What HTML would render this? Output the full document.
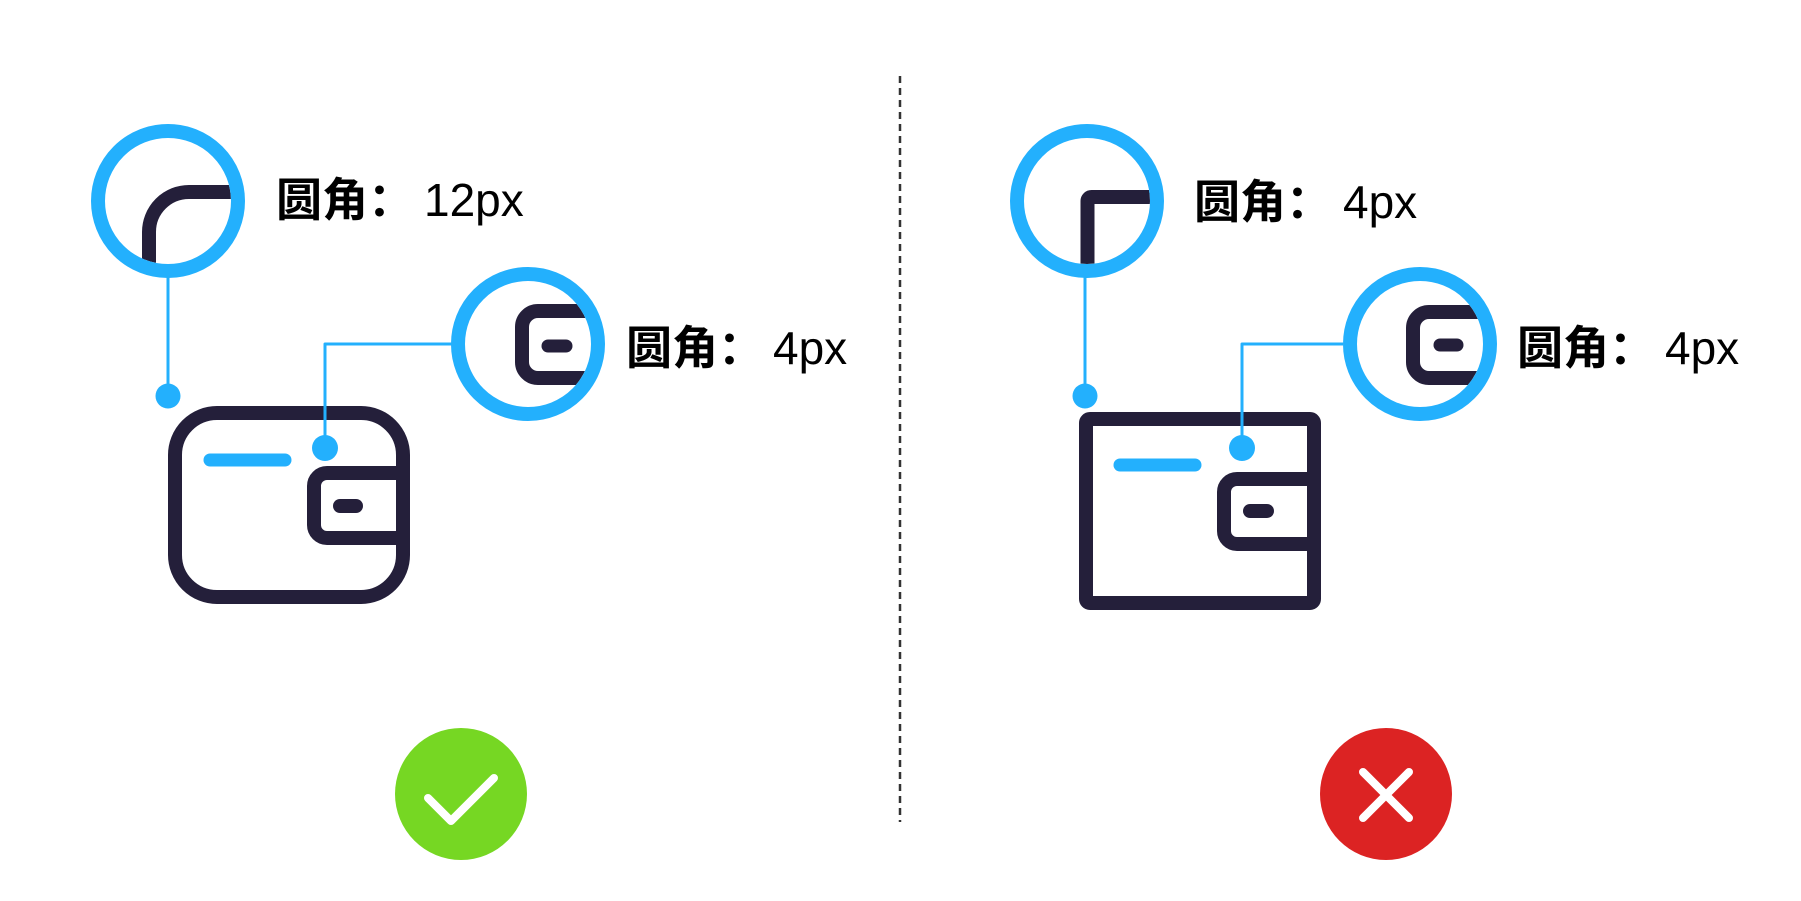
<!DOCTYPE html>
<html><head><meta charset="utf-8"><style>
html,body{margin:0;padding:0;background:#fff;}
svg{display:block}
text{font-family:"Liberation Sans","Noto Sans CJK SC",sans-serif;fill:#000;}
.cj{font-family:"Noto Sans CJK SC",sans-serif;font-weight:bold;}
</style></head><body>
<svg width="1801" height="901" viewBox="0 0 1801 901" xmlns="http://www.w3.org/2000/svg">
<defs>
<clipPath id="c1"><circle cx="168" cy="201" r="63"/></clipPath>
<clipPath id="c2"><circle cx="528" cy="344" r="63"/></clipPath>
<clipPath id="c3"><circle cx="1087" cy="201" r="63"/></clipPath>
<clipPath id="c4"><circle cx="1420" cy="344" r="63"/></clipPath>
</defs>
<g fill="none" stroke-linecap="round" stroke-linejoin="round">
<line x1="900" y1="76" x2="900" y2="822" stroke="#333" stroke-width="2.5" stroke-dasharray="7 5" stroke-linecap="butt"/>

<path d="M149 280 V232 A40 40 0 0 1 189 192 H240" stroke="#241f3a" stroke-width="14" clip-path="url(#c1)" stroke-linecap="butt"/>
<circle cx="168" cy="201" r="70" stroke="#23b0fd" stroke-width="14"/>
<line x1="168" y1="278" x2="168" y2="396" stroke="#23b0fd" stroke-width="3"/>
<circle cx="168" cy="396" r="12.5" fill="#23b0fd" stroke="none"/>
<rect x="175" y="413" width="228" height="184" rx="42" stroke="#241f3a" stroke-width="14"/>
<line x1="210" y1="460" x2="285" y2="460" stroke="#23b0fd" stroke-width="13"/>
<path d="M403 473 H327 A13 13 0 0 0 314 486 V525 A13 13 0 0 0 327 538 H403" stroke="#241f3a" stroke-width="14" stroke-linecap="butt"/>
<line x1="340" y1="506" x2="356" y2="506" stroke="#241f3a" stroke-width="14"/>
<polyline points="325,448 325,344 452,344" stroke="#23b0fd" stroke-width="3" stroke-linecap="butt"/>
<circle cx="325" cy="448" r="13" fill="#23b0fd" stroke="none"/>
<path d="M610 311 H538 A16 16 0 0 0 522 327 V362 A16 16 0 0 0 538 378 H610" stroke="#241f3a" stroke-width="14" clip-path="url(#c2)" stroke-linecap="butt"/>
<line x1="548" y1="346" x2="566" y2="346" stroke="#241f3a" stroke-width="13"/>
<circle cx="528" cy="344" r="70" stroke="#23b0fd" stroke-width="14"/>
<circle cx="461" cy="794" r="66" fill="#76d723" stroke="none"/>
<polyline points="428,798 451,821 494,778" stroke="#fff" stroke-width="8"/>

<path d="M1087.5 280 V201 A4 4 0 0 1 1091.5 197 H1160" stroke="#241f3a" stroke-width="14" clip-path="url(#c3)" stroke-linecap="butt"/>
<circle cx="1087" cy="201" r="70" stroke="#23b0fd" stroke-width="14"/>
<line x1="1085" y1="278" x2="1085" y2="396" stroke="#23b0fd" stroke-width="3"/>
<circle cx="1085" cy="396" r="12.5" fill="#23b0fd" stroke="none"/>
<rect x="1086" y="419" width="228" height="184" rx="4" stroke="#241f3a" stroke-width="14"/>
<line x1="1120" y1="465" x2="1195" y2="465" stroke="#23b0fd" stroke-width="13"/>
<path d="M1314 479 H1237 A13 13 0 0 0 1224 492 V531 A13 13 0 0 0 1237 544 H1314" stroke="#241f3a" stroke-width="14" stroke-linecap="butt"/>
<line x1="1250" y1="511" x2="1267" y2="511" stroke="#241f3a" stroke-width="14"/>
<polyline points="1242,448 1242,344 1343,344" stroke="#23b0fd" stroke-width="3" stroke-linecap="butt"/>
<circle cx="1242" cy="448" r="13" fill="#23b0fd" stroke="none"/>
<path d="M1500 312 H1429 A16 16 0 0 0 1413 328 V362 A16 16 0 0 0 1429 378 H1500" stroke="#241f3a" stroke-width="14" clip-path="url(#c4)" stroke-linecap="butt"/>
<line x1="1440" y1="345" x2="1457" y2="345" stroke="#241f3a" stroke-width="13"/>
<circle cx="1420" cy="344" r="70" stroke="#23b0fd" stroke-width="14"/>
<circle cx="1386" cy="794" r="66" fill="#dc2323" stroke="none"/>
<line x1="1363" y1="772" x2="1409" y2="818" stroke="#fff" stroke-width="8"/>
<line x1="1409" y1="772" x2="1363" y2="818" stroke="#fff" stroke-width="8"/>
</g>
<g font-size="46">
<text class="cj" x="276" y="216">圆角：</text><text x="424" y="216">12px</text>
<text class="cj" x="626" y="364">圆角：</text><text x="773" y="364">4px</text>
<text class="cj" x="1194" y="218">圆角：</text><text x="1343" y="218">4px</text>
<text class="cj" x="1517" y="364">圆角：</text><text x="1665" y="364">4px</text>
</g>
</svg>
</body></html>
